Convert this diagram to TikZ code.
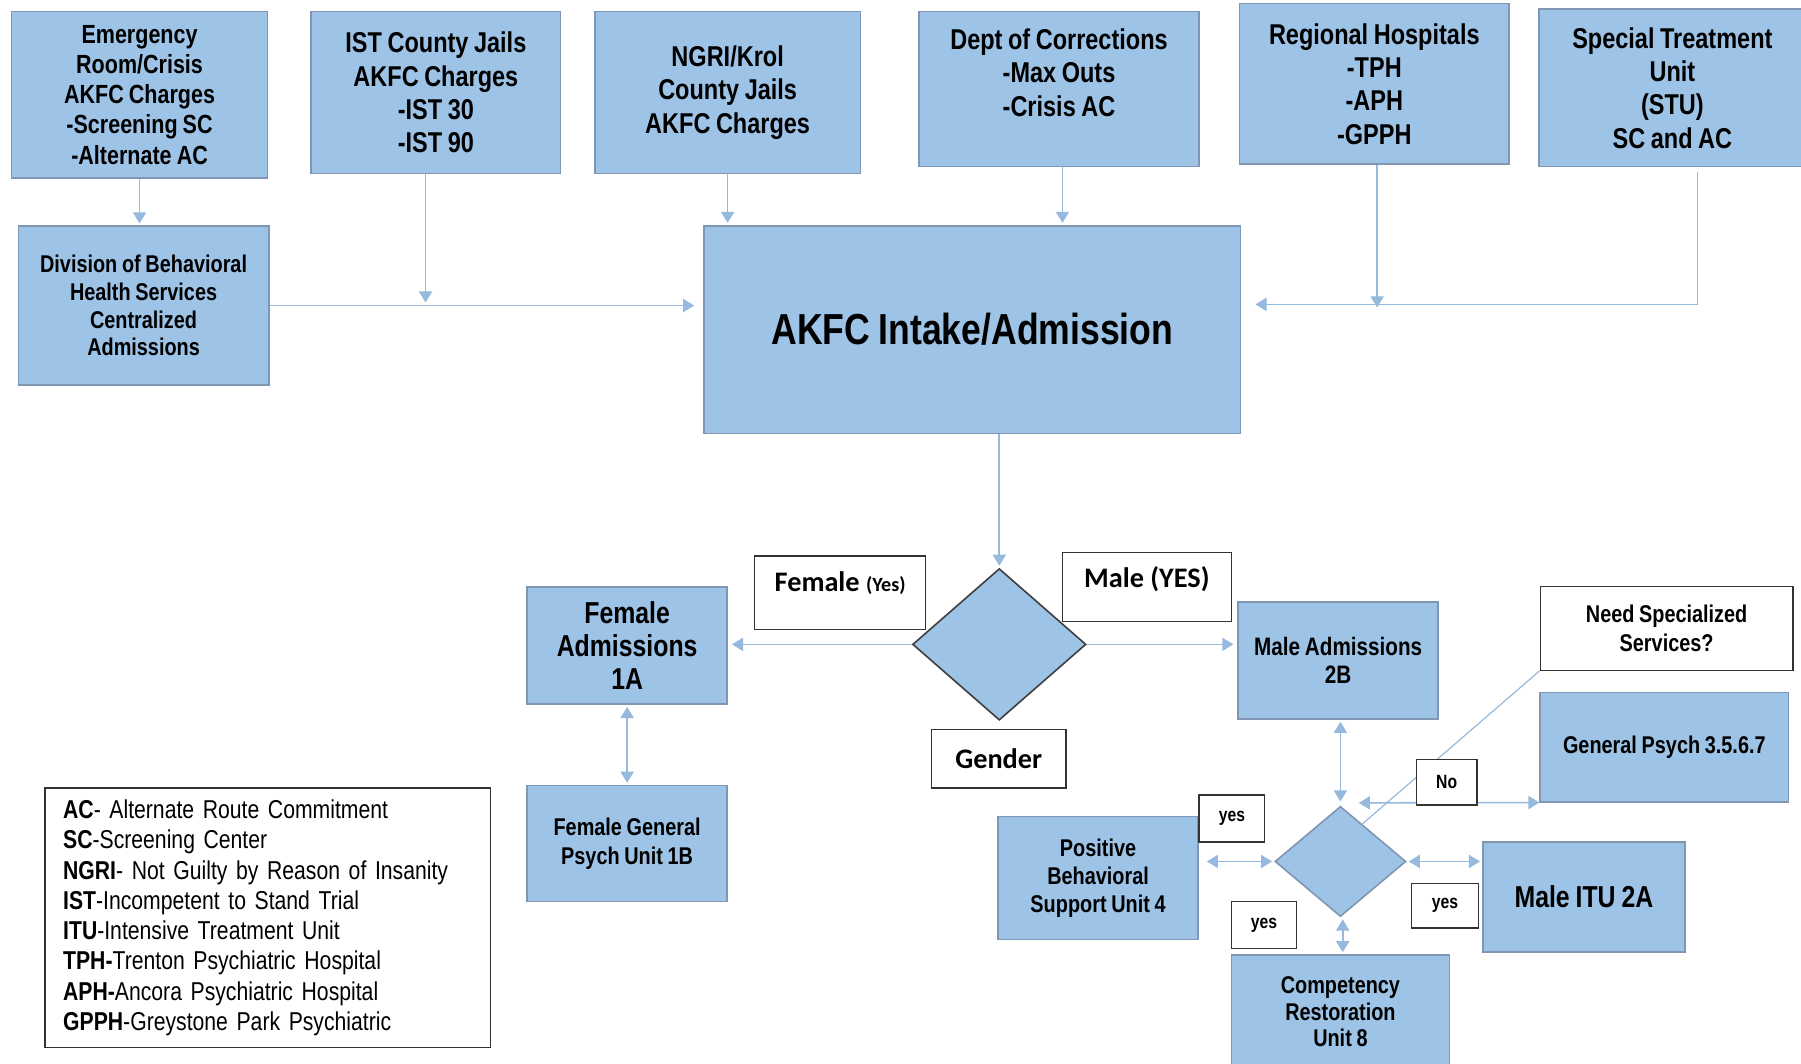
\documentclass[tikz,border=0pt]{standalone}
\usepackage{fontspec}
\setmainfont{Liberation Sans}[FakeStretch=0.82, WordSpace=0.85]
\newfontfamily\calfont{Carlito}
\usetikzlibrary{arrows.meta,calc,shapes.geometric}
\definecolor{boxblue}{RGB}{157,195,230}
\definecolor{boxedge}{RGB}{128,150,178}
\definecolor{flowblue}{RGB}{150,186,222}
\def\px{0.2mm}
\def\fsz#1#2{\fontsize{#1}{#2}\selectfont}

\tikzset{
	size/.style 2 args={minimum width=#1*\px, minimum height=#2*\px},
	box/.style={draw=boxedge, fill=boxblue, line width=0.8pt, inner sep=0pt, align=center},
	tag/.style={draw=black!80, fill=white, line width=0.7pt, inner sep=0pt, align=center},
	gate/.style={diamond, fill=boxblue, line width=0.8pt, inner sep=0pt},
	flow/.style={draw=flowblue, line width=0.8pt, -{Triangle[length=5.5pt,width=6.5pt]}},
	both/.style={flow, {Triangle[length=5.5pt,width=6.5pt]}-{Triangle[length=5.5pt,width=6.5pt]}},
}

\begin{document}
\begin{tikzpicture}[x=\px, y=-\px]
			%%%%% START %%%%%
			
			\path[fill=white, use as bounding box] (0,0) rectangle (1568,926);
			
			% sources
			\node[box, size={223}{145}, font=\bfseries\fsz{13}{15}] (emerg) at (121.5,82.5) {Emergency\\Room/Crisis\\AKFC Charges\\-Screening SC\\-Alternate AC};
			\node[box, size={217}{141}, font=\bfseries\fsz{14.2}{16.5}] (ist) at (379.5,80.5) {IST County Jails\\AKFC Charges\\-IST 30\\-IST 90};
			\node[box, size={231}{141}, font=\bfseries\fsz{14.2}{16.5}] (ngri) at (633.5,80.5) {NGRI/Krol\\County Jails\\AKFC Charges};
			\node[box, size={244}{135}, font=\bfseries\fsz{14.2}{16.5}] (dept) at (922,77.5) {Dept of Corrections\\-Max Outs\\-Crisis AC\\\mbox{}};
			\node[box, size={235}{140}, font=\bfseries\fsz{14.2}{16.5}] (regh) at (1196.5,73) {Regional Hospitals\\-TPH\\-APH\\-GPPH};
			\node[box, size={232}{137}, font=\bfseries\fsz{14.2}{16.5}] (stu) at (1456,76.5) {Special Treatment\\Unit\\(STU)\\SC and AC};
			
			\node[box, size={218}{138}, font=\bfseries\fsz{12}{13.7}] (dbhs) at (125,266) {Division of Behavioral\\Health Services\\Centralized\\Admissions};
			\node[box, size={467}{181}, font=\bfseries\fsz{21.5}{24}] (akfc) at (846.5,287) {AKFC Intake/Admission};
			
			% gender split
			\node[gate, draw=black!75, size={151}{132}] (gdr) at (870,561) {};
			\node[box, size={174}{102}, font=\bfseries\fsz{15}{16.5}] (fadm) at (546,562) {Female\\Admissions\\1A};
			\node[box, size={174}{102}, font=\bfseries\fsz{12.5}{13.7}] (madm) at (1165,575) {Male Admissions\\2B};
			\node[box, size={174}{101}, font=\bfseries\fsz{12}{14}] (fgp) at (546,734.5) {Female General\\Psych Unit 1B};
			
			% male units
			\node[gate, draw=boxedge, size={114}{96}] (sd) at (1167,750) {};
			\node[box, size={174}{107}, font=\bfseries\fsz{12}{13.7}] (pbs) at (956,764.5) {Positive\\Behavioral\\Support Unit 4};
			\node[box, size={176}{96}, font=\bfseries\fsz{15}{17}] (itu) at (1379,781) {Male ITU 2A};
			\node[box, size={190}{99}, font=\bfseries\fsz{12}{13.2}] (crt) at (1167,881) {Competency\\Restoration\\Unit 8};
			\node[box, size={216}{95}, font=\bfseries\fsz{12}{14}] (gpsy) at (1449,650.5) {General Psych 3.5.6.7};
			\node[tag, size={220}{73}, font=\bfseries\fsz{12}{14}] (need) at (1451,547) {Need Specialized\\Services?};
			
			% legend
			\node[draw=black!80, fill=white, line width=0.7pt, inner sep=0pt, size={388}{226}, text width=356*\px, align=left, font=\fsz{12.8}{15}] (key) at (233,799) {\textbf{AC}- Alternate Route Commitment\\\textbf{SC}-Screening Center\\\textbf{NGRI}- Not Guilty by Reason of Insanity\\\textbf{IST}-Incompetent to Stand Trial\\\textbf{ITU}-Intensive Treatment Unit\\\textbf{TPH-}Trenton Psychiatric Hospital\\\textbf{APH-}Ancora Psychiatric Hospital\\\textbf{GPPH}-Greystone Park Psychiatric};
			
			% connectors
			\coordinate (rjoin) at (1478,265);
			\coordinate (nojoin) at (1183,699);
			\draw[flow, shorten >=1pt] (emerg.south) -- (emerg.south |- dbhs.north);
			\draw[flow, shorten >=1.5pt] ([xshift=-1.8mm]ist.south) -- ([xshift=-1.8mm]ist.south |- dbhs.east);
			\draw[flow, shorten >=4.5pt] (dbhs.east) -- (dbhs.east -| akfc.west);
			\draw[flow, shorten >=1pt] (ngri.south) -- (ngri.south |- akfc.north);
			\draw[flow, shorten >=1pt] ([xshift=0.6mm]dept.south) -- ([xshift=0.6mm]dept.south |- akfc.north);
			\draw[flow, shorten >=-1.5pt] ([xshift=0.5mm]regh.south) -- ([xshift=0.5mm]regh.south |- rjoin);
			\draw[flow, shorten <=2.5pt, shorten >=7pt] (stu.south -| rjoin) -- (rjoin) -- (rjoin -| akfc.east);
			
			\draw[flow, shorten >=1pt] (gdr.north |- akfc.south) -- (gdr.north);
			\draw[flow, shorten >=2pt] (gdr.west) -- (gdr.west -| fadm.east);
			\draw[flow, shorten >=2pt] (gdr.east) -- (gdr.east -| madm.west);
			\draw[both, shorten <=1pt, shorten >=1pt] (fadm.south) -- (fgp.north);
			
			\draw[both, shorten <=1pt, shorten >=2pt] (sd.north |- madm.south) -- (sd.north);
			\draw[both, shorten <=4pt, shorten >=1pt] (sd.west -| pbs.east) -- (sd.west);
			\draw[both, shorten <=1pt, shorten >=1pt] (sd.east) -- (sd.east -| itu.west);
			\draw[both, shorten <=1pt, shorten >=1pt] ([xshift=0.4mm]sd.south) -- ([xshift=0.4mm]sd.south |- crt.north);
			\draw[both] (nojoin) -- (gpsy.south west);
			\draw[flowblue, line width=0.6pt] (need.south west) -- ($(sd.north)!0.33!(sd.east)$);
			
			% answers
			\node[tag, size={149}{64}, text depth=11pt, font=\calfont\bfseries\fsz{14}{16}] (fyes) at (731.5,516) {Female {\fsz{10}{12}(Yes)}};
			\node[tag, size={147}{60}, text depth=10pt, font=\calfont\bfseries\fsz{14}{16}] (myes) at (998.5,511) {Male (YES)};
			\node[tag, size={117}{51}, font=\calfont\bfseries\fsz{14}{16}] (gtag) at (869.5,660.5) {Gender};
			\node[tag, size={53}{40}, font=\bfseries\fsz{9.5}{11}] (notag) at (1259.5,681) {No};
			\node[tag, size={57}{41}, font=\bfseries\fsz{9.5}{11}] (ypbs) at (1072.5,712.5) {yes};
			\node[tag, size={58}{39}, font=\bfseries\fsz{9.5}{11}] (yitu) at (1258,788.5) {yes};
			\node[tag, size={57}{41}, font=\bfseries\fsz{9.5}{11}] (ycrt) at (1100.5,805.5) {yes};
			
			%%%%% END %%%%%
\end{tikzpicture}
\end{document}
